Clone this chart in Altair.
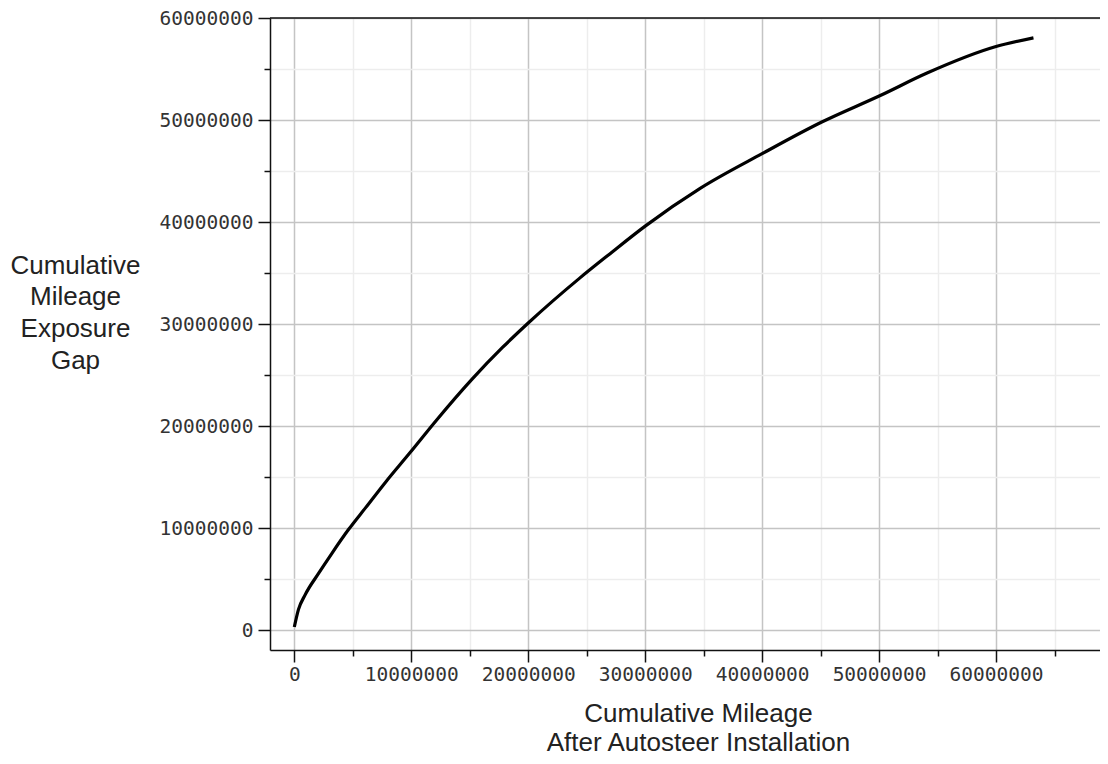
import altair as alt
import pandas as pd

# Cumulative mileage after Autosteer installation (x) and cumulative mileage exposure gap (y)
mileage_after = [0, 350000, 900000, 2100000, 3200000, 4600000, 6100000, 7800000, 9900000,
                 12100000, 15200000, 17800000, 20000000, 24400000, 27000000, 30000000,
                 34700000, 40000000, 45100000, 50100000, 54100000, 60000000, 63200000]
exposure_gap = [300000, 2000000, 3400000, 5600000, 7500000, 9800000, 12000000, 14500000,
                17400000, 20500000, 24600000, 27700000, 30100000, 34500000, 36900000,
                39600000, 43300000, 46700000, 49800000, 52400000, 54600000, 57200000,
                58050000]

x_ticks = [0, 5000000, 10000000, 15000000, 20000000, 25000000, 30000000, 35000000,
           40000000, 45000000, 50000000, 55000000, 60000000, 65000000]
y_ticks = [0, 5000000, 10000000, 15000000, 20000000, 25000000, 30000000, 35000000,
           40000000, 45000000, 50000000, 55000000, 60000000]
x_domain = [-2080000, 68890000]
y_domain = [-1957000, 60000000]

df = pd.DataFrame({"mileage": mileage_after, "gap": exposure_gap})

major = "datum.value % 10000000 === 0"
grid_color = {"condition": {"test": major, "value": "#c4c4c4"}, "value": "#ededed"}
tick_size = {"condition": {"test": major, "value": 12}, "value": 6}
label_expr = f"{major} ? format(datum.value, 'd') : ''"

x_axis = alt.Axis(
    values=x_ticks, labelExpr=label_expr, labelOverlap=False, labelFlush=False,
    labelFont="DejaVu Sans Mono", labelFontSize=19.5, labelColor="#333", labelPadding=3,
    gridColor=grid_color, gridWidth=1.5, tickSize=tick_size, tickColor="#111", tickWidth=1.5,
    domainColor="#111", domainWidth=1.5,
    title=["Cumulative Mileage", "After Autosteer Installation"],
    titleFont="Liberation Sans", titleFontSize=26, titleFontWeight="normal", titleColor="#222",
    titleAngle=0, titleAlign="center", titleBaseline="alphabetic",
    titleX=428, titleY=71, titleLineHeight=29,
)
y_axis = alt.Axis(
    values=y_ticks, labelExpr=label_expr, labelOverlap=False, labelFlush=False,
    labelFont="DejaVu Sans Mono", labelFontSize=19.5, labelColor="#333", labelPadding=5,
    gridColor=grid_color, gridWidth=1.5, tickSize=tick_size, tickColor="#111", tickWidth=1.5,
    domainColor="#111", domainWidth=1.5,
    title=["Cumulative", "Mileage", "Exposure", "Gap"],
    titleFont="Liberation Sans", titleFontSize=26, titleFontWeight="normal", titleColor="#222",
    titleAngle=0, titleAlign="center", titleBaseline="alphabetic",
    titleX=-195, titleY=255, titleLineHeight=31.7,
)

line = alt.Chart(df).mark_line(color="black", strokeWidth=3.2, interpolate="monotone").encode(
    x=alt.X("mileage:Q", scale=alt.Scale(domain=x_domain, nice=False, zero=False), axis=x_axis),
    y=alt.Y("gap:Q", scale=alt.Scale(domain=y_domain, nice=False, zero=False), axis=y_axis),
)

top_border = alt.Chart(pd.DataFrame({"v": [y_domain[1]]})).mark_rule(
    color="#111", strokeWidth=1.5
).encode(y=alt.Y("v:Q"))

chart = alt.layer(line, top_border).properties(
    width=830, height=632,
    autosize=alt.AutoSizeParams(type="none"),
    padding={"left": 262, "top": 10, "right": 0, "bottom": 106},
).configure_view(stroke=None)

chart.save("out.html", embed_options={"renderer": "svg", "actions": False})
